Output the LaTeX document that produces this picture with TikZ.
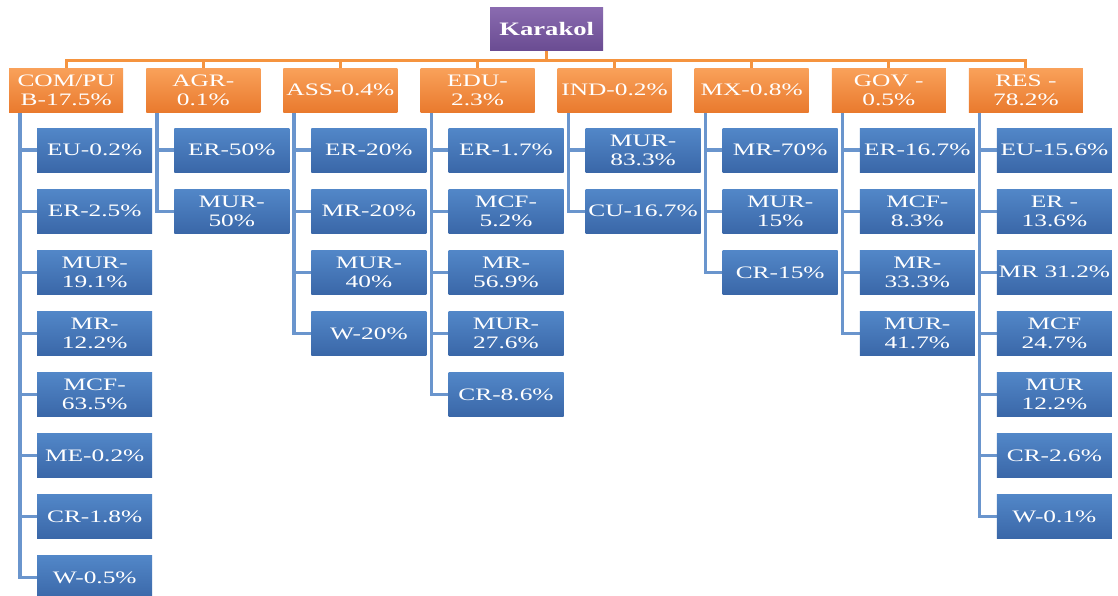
\documentclass[tikz,border=0pt]{standalone}
\usepackage{fontspec}
\setmainfont{Liberation Serif}
\newfontfamily\boxfont[FakeStretch=1.45]{Liberation Serif}
\newfontfamily\rootfont[FakeStretch=1.4]{Liberation Serif}
\usetikzlibrary{backgrounds}
\definecolor{orgTop}{HTML}{F9A15A}
\definecolor{orgBot}{HTML}{E97A2E}
\definecolor{bluTop}{HTML}{5287C8}
\definecolor{bluBot}{HTML}{3A67A8}
\definecolor{purTop}{HTML}{8A6BB0}
\definecolor{purBot}{HTML}{6A4C92}
\definecolor{orgLine}{HTML}{F5943F}
\definecolor{bluLine}{HTML}{6A95CD}
\newcommand\catnode[3]{\node[catbox, anchor=north west] (O#1) at ({9+137.1*(#1-1)},68) {#3};}
\newcommand\subnode[3]{\node[subbox, anchor=north west] (B#1-#2) at ({37+137.1*(#1-1)},{128+61.05*(#2-1)}) {#3};}
\begin{document}
\begin{tikzpicture}[x=1pt,y=-1pt,
  catbox/.style={rectangle, minimum width=114pt, minimum height=44pt, inner sep=0pt,
    top color=orgTop, bottom color=orgBot, text=white, align=center,
    font=\boxfont\fontsize{17.5}{18.5}\selectfont},
  subbox/.style={rectangle, minimum width=115pt, minimum height=44pt, inner sep=0pt,
    top color=bluTop, bottom color=bluBot, text=white, align=center,
    font=\boxfont\fontsize{17.5}{18.5}\selectfont},
  rootbox/.style={rectangle, minimum width=113pt, minimum height=43pt, inner sep=0pt,
    top color=purTop, bottom color=purBot, text=white, align=center,
    font=\rootfont\bfseries\fontsize{19}{21}\selectfont},
  orgline/.style={draw=orgLine, line width=3pt},
  bluline/.style={draw=bluLine, line width=3.5pt}]
\useasboundingbox (0,0) rectangle (1118,596);

\node[rootbox, anchor=north west] (K) at (490,7) {Karakol};

\catnode{1}{}{COM/PU\\B-17.5\%}
\catnode{2}{}{AGR-\\0.1\%}
\catnode{3}{}{ASS-0.4\%}
\catnode{4}{}{EDU-\\2.3\%}
\catnode{5}{}{IND-0.2\%}
\catnode{6}{}{MX-0.8\%}
\catnode{7}{}{GOV -\\0.5\%}
\catnode{8}{}{RES -\\78.2\%}

\subnode{1}{1}{EU-0.2\%}
\subnode{1}{2}{ER-2.5\%}
\subnode{1}{3}{MUR-\\19.1\%}
\subnode{1}{4}{MR-\\12.2\%}
\subnode{1}{5}{MCF-\\63.5\%}
\subnode{1}{6}{ME-0.2\%}
\subnode{1}{7}{CR-1.8\%}
\subnode{1}{8}{W-0.5\%}

\subnode{2}{1}{ER-50\%}
\subnode{2}{2}{MUR-\\50\%}

\subnode{3}{1}{ER-20\%}
\subnode{3}{2}{MR-20\%}
\subnode{3}{3}{MUR-\\40\%}
\subnode{3}{4}{W-20\%}

\subnode{4}{1}{ER-1.7\%}
\subnode{4}{2}{MCF-\\5.2\%}
\subnode{4}{3}{MR-\\56.9\%}
\subnode{4}{4}{MUR-\\27.6\%}
\subnode{4}{5}{CR-8.6\%}

\subnode{5}{1}{MUR-\\83.3\%}
\subnode{5}{2}{CU-16.7\%}

\subnode{6}{1}{MR-70\%}
\subnode{6}{2}{MUR-\\15\%}
\subnode{6}{3}{CR-15\%}

\subnode{7}{1}{ER-16.7\%}
\subnode{7}{2}{MCF-\\8.3\%}
\subnode{7}{3}{MR-\\33.3\%}
\subnode{7}{4}{MUR-\\41.7\%}

\subnode{8}{1}{EU-15.6\%}
\subnode{8}{2}{ER -\\13.6\%}
\subnode{8}{3}{MR 31.2\%}
\subnode{8}{4}{MCF\\24.7\%}
\subnode{8}{5}{MUR\\12.2\%}
\subnode{8}{6}{CR-2.6\%}
\subnode{8}{7}{W-0.1\%}

\begin{scope}[on background layer]
  \fill[white] (0,0) rectangle (1118,596);
  \foreach \i in {1,...,8} {
    \draw[orgline] (K.south) -- ++(0,10) -| (O\i.north);
  }
  \foreach \i/\n in {1/8,2/2,3/4,4/5,5/2,6/3,7/4,8/7} {
    \foreach \j in {1,...,\n} {
      \draw[bluline] ([xshift=11pt]O\i.south west) |- (B\i-\j.west);
    }
  }
\end{scope}
\end{tikzpicture}
\end{document}
